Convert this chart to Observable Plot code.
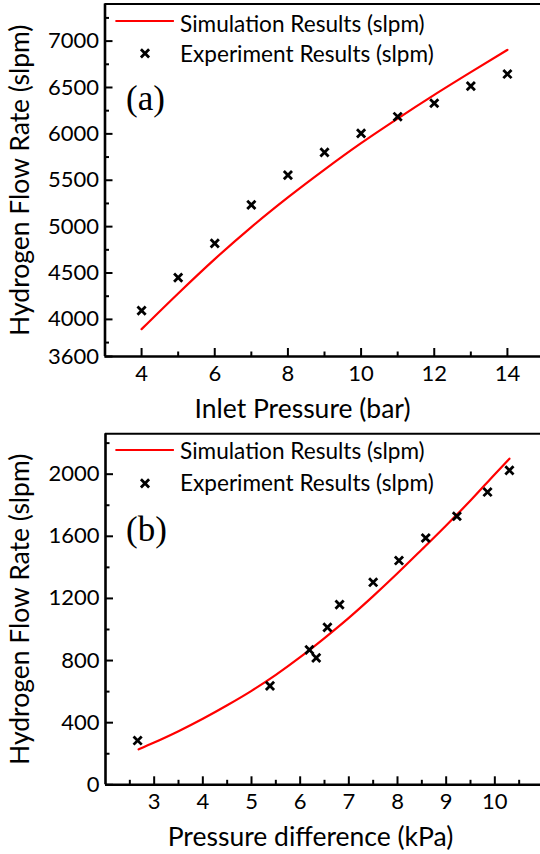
<!DOCTYPE html>
<html>
<head>
<meta charset="utf-8">
<script src="https://cdn.jsdelivr.net/npm/d3@7"></script>
<script src="https://cdn.jsdelivr.net/npm/@observablehq/plot@0.6"></script>
<style>
html, body { margin: 0; padding: 0; background: #fff; width: 540px; height: 854px; overflow: hidden; }
#chart svg { max-width: none !important; display: block; }
</style>
</head>
<body>
<div id="chart"></div>
<script>
// ---------- Data: panel (a) ----------
const inletPressure = [4, 5, 6, 7, 8, 9, 10, 11, 12, 13, 14];
const experimentA = [4095, 4450, 4820, 5235, 5555, 5800, 6005, 6185, 6330, 6515, 6645];
const simPressureA = [4, 5, 6, 7, 8, 9, 10, 11, 12, 13, 14];
const simulationA = [3895, 4280, 4650, 4995, 5315, 5615, 5900, 6165, 6420, 6665, 6905];
const xTicksA = [4, 6, 8, 10, 12, 14];
const xMinorA = [5, 7, 9, 11, 13];
const yTicksA = [3600, 4000, 4500, 5000, 5500, 6000, 6500, 7000];
const yMinorA = [3750, 4250, 4750, 5250, 5750, 6250, 6750, 7250];

// ---------- Data: panel (b) ----------
const pressureDiff = [2.66, 5.38, 6.19, 6.33, 6.56, 6.81, 7.50, 8.03, 8.58, 9.22, 9.85, 10.30];
const experimentB = [285, 637, 869, 817, 1014, 1160, 1304, 1444, 1589, 1729, 1885, 2025];
const simDiffB = [2.68, 3, 3.5, 4, 4.5, 5, 5.5, 6, 6.5, 7, 7.5, 8, 8.5, 9, 9.5, 10, 10.3];
const simulationB = [228, 272, 345, 425, 512, 605, 708, 822, 945, 1075, 1215, 1362, 1515, 1670, 1830, 2000, 2100];
const xTicksB = [3, 4, 5, 6, 7, 8, 9, 10];
const xMinorB = [2.5, 3.5, 4.5, 5.5, 6.5, 7.5, 8.5, 9.5, 10.5];
const yTicksB = [0, 400, 800, 1200, 1600, 2000];
const yMinorB = [200, 600, 1000, 1400, 1800, 2200];

const legendLabels = ["Simulation Results (slpm)", "Experiment Results (slpm)"];
const yTitle = "Hydrogen Flow Rate (slpm)";

const FONT = "Lato, 'Open Sans', sans-serif";
const RED = "#ff0000";
const DOT_R = 3.8;
const DOT_W = 2.8;
const TITLE_FS = 26.5;

function panel(cfg) {
  const W = 544;
  const fw = W - cfg.marginLeft - cfg.marginRight;
  const fh = cfg.height - cfg.marginTop - cfg.marginBottom;
  const expData = cfg.xs.map((x, i) => ({x, y: cfg.ys[i]}));
  const simData = cfg.sx.map((x, i) => ({x, y: cfg.sy[i]}));
  const svg = Plot.plot({
    width: W,
    height: cfg.height,
    marginTop: cfg.marginTop,
    marginBottom: cfg.marginBottom,
    marginLeft: cfg.marginLeft,
    marginRight: cfg.marginRight,
    style: {fontFamily: FONT, color: "black", background: "white", overflow: "visible"},
    x: {domain: cfg.xDomain},
    y: {domain: cfg.yDomain},
    marks: [
      Plot.line(simData, {x: "x", y: "y", stroke: RED, strokeWidth: 2.2, curve: "monotone-x"}),
      Plot.dot(expData, {x: "x", y: "y", symbol: "times", r: DOT_R, stroke: "black", strokeWidth: DOT_W}),
      Plot.ruleX(cfg.xTicks, {insetTop: fh - 8, strokeWidth: 2}),
      Plot.ruleX(cfg.xMinor, {insetTop: fh - 4.5, strokeWidth: 2}),
      Plot.ruleY(cfg.yTicks, {insetRight: fw - 8, strokeWidth: 2}),
      Plot.ruleY(cfg.yMinor, {insetRight: fw - 4.5, strokeWidth: 2}),
      Plot.ruleY([cfg.yDomain[1]], {strokeWidth: 2}),
      Plot.ruleX([cfg.xDomain[1]], {strokeWidth: 2}),
      Plot.ruleY([cfg.yDomain[0]], {strokeWidth: 2.6}),
      Plot.ruleX([cfg.xDomain[0]], {strokeWidth: 2.6}),
      Plot.axisX({ticks: cfg.xTicks, tickFormat: d3.format("d"), tickSize: 0, tickPadding: 9, fontSize: 22, label: null}),
      Plot.axisY({ticks: cfg.yTicks, tickFormat: d3.format("d"), tickSize: 0, tickPadding: 6, fontSize: 22, label: null}),
      Plot.text([cfg.xLabel], {frameAnchor: "bottom", textAnchor: "middle", lineAnchor: "top", dx: cfg.xLabelDx, dy: 61 - 0.71 * TITLE_FS, fontSize: TITLE_FS, fill: "black"}),
      Plot.text([yTitle], {frameAnchor: "left", textAnchor: "middle", rotate: -90, lineAnchor: "middle", dx: 20 - cfg.marginLeft, fontSize: TITLE_FS, fill: "black"})
    ]
  });
  // legend + panel tag
  const g = d3.select(svg).append("g").attr("font-family", FONT).attr("fill", "black").attr("text-anchor", "start");
  const L = cfg.legend;
  g.append("line").attr("x1", 115.4).attr("x2", 173.9).attr("y1", L.line).attr("y2", L.line)
    .attr("stroke", RED).attr("stroke-width", 2.2);
  g.append("text").attr("x", 180).attr("y", L.t1).attr("font-size", 22.6).text(legendLabels[0]);
  g.append("path").attr("d", d3.symbol(d3.symbolTimes, DOT_R * DOT_R * Math.PI)())
    .attr("transform", `translate(145,${L.mark})`).attr("fill", "none").attr("stroke", "black").attr("stroke-width", DOT_W);
  g.append("text").attr("x", 180).attr("y", L.t2).attr("font-size", 22.6).text(legendLabels[1]);
  g.append("text").attr("x", 126).attr("y", L.tag).attr("font-size", 35)
    .attr("font-family", "'Liberation Serif', 'Times New Roman', serif").text(cfg.tag);
  return svg;
}

const chart = document.getElementById("chart");
chart.appendChild(panel({
  xs: inletPressure, ys: experimentA, sx: simPressureA, sy: simulationA,
  xDomain: [3, 15], yDomain: [3600, 7400],
  xTicks: xTicksA, xMinor: xMinorA, yTicks: yTicksA, yMinor: yMinorA,
  xLabel: "Inlet Pressure (bar)", xLabelDx: -22, tag: "(a)",
  height: 427, marginTop: 3.5, marginBottom: 71, marginLeft: 104.5, marginRight: 0.5,
  legend: {line: 21, t1: 31.7, mark: 53.3, t2: 61.7, tag: 109.5}
}));
chart.appendChild(panel({
  xs: pressureDiff, ys: experimentB, sx: simDiffB, sy: simulationB,
  xDomain: [2, 11], yDomain: [0, 2260],
  xTicks: xTicksB, xMinor: xMinorB, yTicks: yTicksB, yMinor: yMinorB,
  xLabel: "Pressure difference (kPa)", xLabelDx: -14, tag: "(b)",
  height: 427, marginTop: 6.3, marginBottom: 69.7, marginLeft: 105, marginRight: 1,
  legend: {line: 23, t1: 32.3, mark: 56.3, t2: 64, tag: 114}
}));
</script>
</body>
</html>
